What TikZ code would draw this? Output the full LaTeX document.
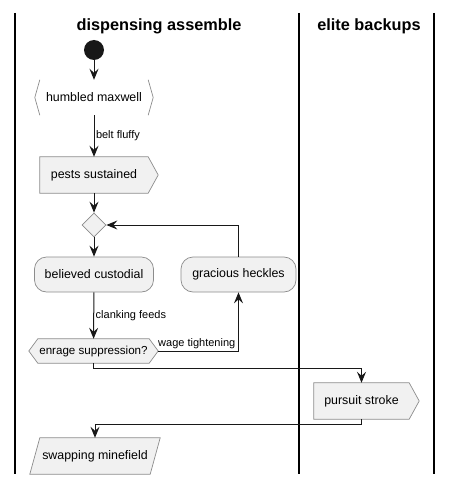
\documentclass[tikz,border=0pt]{standalone}
\usepackage{fontspec}
\setmainfont{Liberation Sans}
\usepackage{xcolor}
\definecolor{inkline}{RGB}{24,24,24}
\definecolor{boxfill}{RGB}{241,241,241}
\definecolor{boxline}{RGB}{140,140,140}
\usepackage{tikz}
\usetikzlibrary{arrows.meta,positioning,calc,backgrounds,shapes.geometric}
\tikzset{
  lane/.style={draw=black, line width=1.2pt},
  lanetitle/.style={font=\fontsize{16.3}{19}\selectfont\bfseries, inner sep=0pt},
  flow/.style={draw=inkline, line width=1pt,
               -{Stealth[length=11pt,width=9pt,inset=4pt]}},
  flowlabel/.style={font=\fontsize{11}{13}\selectfont, inner sep=1.5pt},
  startdot/.style={circle, fill=inkline, minimum size=20pt, inner sep=0pt},
  actbox/.style={draw=boxline, fill=boxfill, rounded corners=12pt, line width=0.7pt,
                 minimum height=35pt, inner sep=0pt, font=\fontsize{12.4}{14}\selectfont},
  plainbox/.style={minimum height=35pt, inner sep=0pt, font=\fontsize{12.4}{14}\selectfont},
  shapeline/.style={draw=boxline, fill=boxfill, line width=0.7pt},
  branch/.style={diamond, draw=boxline, fill=boxfill, line width=0.7pt,
                 minimum size=24pt, inner sep=0pt},
}
\begin{document}
\begin{tikzpicture}[x=1pt,y=-1pt]
\useasboundingbox (0,0) rectangle (453,484);
% swimlanes
\draw[lane] (15,13) -- (15,474);
\draw[lane] (299,13) -- (299,474);
\draw[lane] (434,13) -- (434,474);
\node[lanetitle] (lane1) at (159,26) {dispensing assemble};
\node[lanetitle] (lane2) at (369,26) {elite backups};

% activities
\node[startdot] (start) at (94,50) {};
\node[plainbox, minimum width=108pt] (humbled) at (94,97.5) {humbled maxwell};
\node[plainbox, minimum width=108pt, minimum height=36pt] (pests) at (94,175) {pests sustained};
\node[branch] (merge) at (94,225) {};
\node[actbox, minimum width=119pt] (believed) at (94,274.5) {believed custodial};
\node[actbox, minimum width=115pt] (gracious) at (238.5,274.5) {gracious heckles};
\node[plainbox, minimum width=111pt, minimum height=24pt,
      font=\fontsize{11.6}{13}\selectfont] (enrage) at (93.5,351) {enrage suppression?};
\node[plainbox, minimum width=95pt, minimum height=36pt] (pursuit) at (361.5,401) {pursuit stroke};
\node[plainbox, minimum width=120pt, minimum height=36pt] (swapping) at (95,456) {swapping minefield};

% outlines behind the texts
\begin{scope}[on background layer]
  \draw[boxline, line width=0.7pt] (humbled.north west) -- ($(humbled.west)+(-5,0)$) -- (humbled.south west);
  \draw[boxline, line width=0.7pt] (humbled.north east) -- ($(humbled.east)+(5,0)$) -- (humbled.south east);
  \draw[shapeline] (pests.north west) -- (pests.north east) -- ($(pests.east)+(10,0)$)
    -- (pests.south east) -- (pests.south west) -- cycle;
  \draw[shapeline] (enrage.north west) -- (enrage.north east) -- ($(enrage.east)+(9,0)$)
    -- (enrage.south east) -- (enrage.south west) -- ($(enrage.west)+(-9,0)$) -- cycle;
  \draw[shapeline] (pursuit.north west) -- (pursuit.north east) -- ($(pursuit.east)+(10,0)$)
    -- (pursuit.south east) -- (pursuit.south west) -- cycle;
  \draw[shapeline] ($(swapping.north west)+(5,0)$) -- ($(swapping.north east)+(5,0)$)
    -- ($(swapping.south east)+(-5,0)$) -- ($(swapping.south west)+(-5,0)$) -- cycle;
\end{scope}

% connectors
\draw[flow] (start) -- (humbled);
\draw[flow] (humbled) -- node[flowlabel, right] {belt fluffy} (pests);
\draw[flow] (pests) -- (merge);
\draw[flow] (merge) -- (believed);
\draw[flow] (believed) -- node[flowlabel, right] {clanking feeds} (enrage);
\coordinate (enrage tip) at ($(enrage.east)+(9,0)$);
\draw[flow] (enrage tip) -| node[flowlabel, above, pos=0.24] {wage tightening} (gracious);
\draw[flow] (gracious) |- (merge);
\draw[flow] (enrage.south) -- ++(0,5) -| (pursuit.north);
\draw[flow] (pursuit.south) -- ++(0,5) -| (swapping.north);
\end{tikzpicture}
\end{document}
